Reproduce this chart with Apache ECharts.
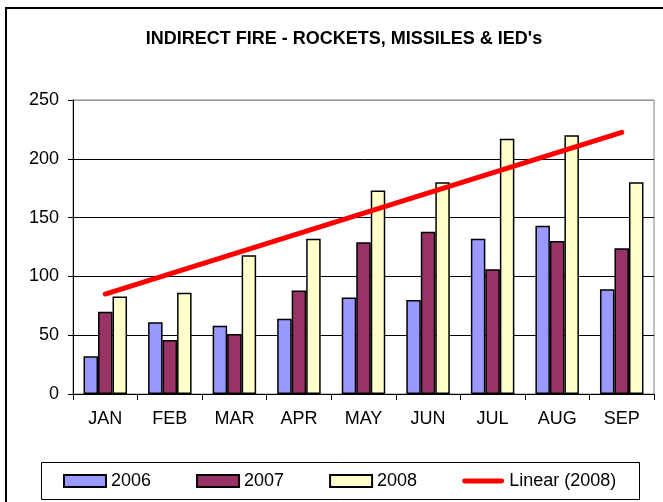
<!DOCTYPE html>
<html>
<head>
<meta charset="utf-8">
<script src="https://cdn.jsdelivr.net/npm/echarts@6/dist/echarts.min.js"></script>
<style>
html,body{margin:0;padding:0;background:#fff;}
#chart{width:663px;height:502px;}
</style>
</head>
<body>
<div id="chart"></div>
<script>
var categories = ['JAN','FEB','MAR','APR','MAY','JUN','JUL','AUG','SEP'];
var values2006 = [32, 61, 58, 64, 82, 80, 132, 143, 89];
var values2007 = [70, 46, 51, 88, 129, 138, 106, 130, 124];
var values2008 = [83, 86, 118, 132, 173, 180, 217, 220, 180];
var trend2008 = [85, null, null, null, null, null, null, null, 222.5];
var yTicks = [0, 50, 100, 150, 200, 250];

var FONT = '"Liberation Sans", Arial, sans-serif';
var chart = echarts.init(document.getElementById('chart'));

function barSeries(name, data, color) {
  return {
    name: name, type: 'bar', data: data, barWidth: 14.5, barGap: '0%',
    itemStyle: { color: color, borderColor: '#000', borderWidth: 1.5 }
  };
}

chart.setOption({
  animation: false,
  backgroundColor: '#fff',
  title: {
    text: "INDIRECT FIRE - ROCKETS, MISSILES & IED's",
    left: 339, top: 25, textAlign: 'center',
    textStyle: { fontFamily: FONT, fontSize: 18, fontWeight: 'bold', color: '#000' }
  },
  grid: { left: 73, right: 9, top: 100, bottom: 108, show: true, borderColor: '#808080', borderWidth: 1 },
  xAxis: {
    type: 'category', data: categories,
    axisLine: { lineStyle: { color: '#000', width: 1 } },
    axisTick: { show: true, length: 6, lineStyle: { color: '#000' } },
    axisLabel: { fontFamily: FONT, fontSize: 18, color: '#000', margin: 16 }
  },
  yAxis: {
    type: 'value', min: 0, max: 250, interval: 50,
    axisLine: { show: true, lineStyle: { color: '#000', width: 1 } },
    axisTick: { show: true, length: 5, lineStyle: { color: '#000' } },
    axisLabel: { fontFamily: FONT, fontSize: 18, color: '#000', margin: 14,
      formatter: function (v) { return yTicks.indexOf(v) >= 0 ? String(v) : ''; } },
    splitLine: { show: true, lineStyle: { color: ['#000','#000','#000','#000','#000','#999'], width: 1 } }
  },
  legend: {
    left: 63, top: 472, padding: 0, itemWidth: 42, itemHeight: 12, itemGap: 45,
    textStyle: { fontFamily: FONT, fontSize: 18, color: '#000' },
    data: [
      { name: '2006', icon: 'rect' },
      { name: '2007', icon: 'rect' },
      { name: '2008', icon: 'rect' },
      { name: 'Linear (2008)', icon: 'path://M2,0 L40,0 A2.5,2.5 0 0 1 40,5 L2,5 A2.5,2.5 0 0 1 2,0 Z',
        itemStyle: { color: '#FF0000', borderWidth: 0 } }
    ]
  },
  series: [
    barSeries('2006', values2006, '#9999FF'),
    barSeries('2007', values2007, '#993366'),
    barSeries('2008', values2008, '#FFFFCC'),
    {
      name: 'Linear (2008)', type: 'line', data: trend2008, connectNulls: true,
      symbol: 'none', z: 5,
      lineStyle: { color: '#FF0000', width: 5, cap: 'round' },
      itemStyle: { color: '#FF0000' }
    }
  ],
  graphic: [
    { type: 'rect', shape: { x: 6, y: 8, width: 700, height: 600 },
      style: { fill: 'none', stroke: '#000', lineWidth: 2 }, silent: true },
    { type: 'rect', shape: { x: 41.5, y: 462.5, width: 598, height: 37 },
      style: { fill: 'none', stroke: '#000', lineWidth: 1 }, silent: true }
  ]
});
</script>
</body>
</html>
